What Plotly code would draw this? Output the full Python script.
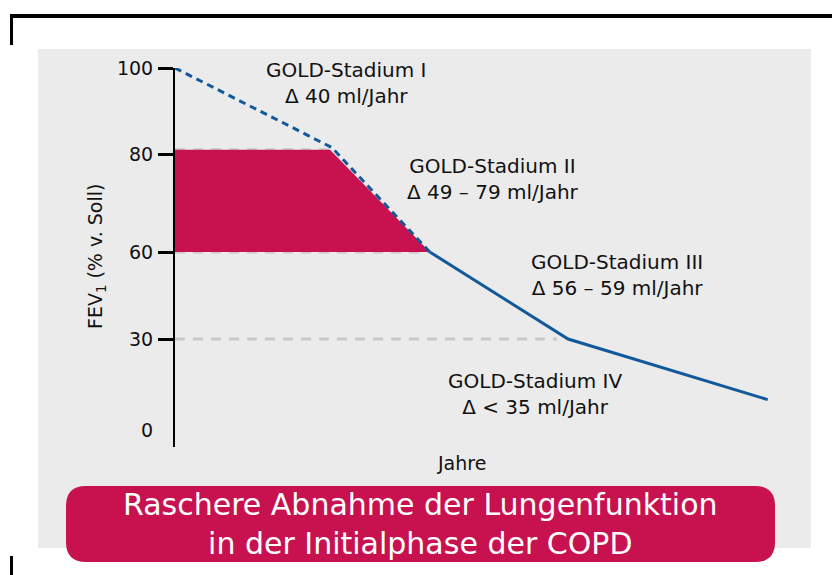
import numpy as np
import plotly.graph_objects as go

W, H = 832, 575

# ---- data ----
fev_ticks = [100, 80, 60, 30, 0]          # y tick labels (non-linear spacing)
tick_pos = [362, 276, 178, 91, 0]         # display position of each tick value
years_dashed = [0, 25.3, 41.1]
fev_dashed = [100, 81.5, 60]
years_solid = [41.1, 63.4, 95.6]
fev_solid = [60, 30, 10]
band_years = [0, 0, 25, 41.1, 0]
band_fev = [60, 81, 81, 60, 60]
ref_levels = [81, 60, 30]
ref_ends = [25, 41.1, 61.6]
stage_labels = [
    ("GOLD-Stadium I", "Δ 40 ml/Jahr"),
    ("GOLD-Stadium II", "Δ 49 – 79 ml/Jahr"),
    ("GOLD-Stadium III", "Δ 56 – 59 ml/Jahr"),
    ("GOLD-Stadium IV", "Δ < 35 ml/Jahr"),
]
box_lines = ["Raschere Abnahme der Lungenfunktion", "in der Initialphase der COPD"]

FONT = "DejaVu Sans"
TXT = "#111111"
BLUE = "#12599b"
PINK = "#c7124f"


def pos(v):
    v = np.asarray(v, dtype=float)
    return np.interp(v, fev_ticks[::-1], tick_pos[::-1])


def px(x):
    return x / W


def py(y):
    return 1 - y / H


fig = go.Figure()

# gray reference dashed lines
for lvl, xe in zip(ref_levels, ref_ends):
    fig.add_trace(go.Scatter(x=[0, xe], y=pos([lvl, lvl]), mode="lines",
                             line=dict(color="#c9c9c9", width=3, dash="10px,8px"),
                             hoverinfo="skip", showlegend=False))

# pink band
fig.add_trace(go.Scatter(x=band_years, y=pos(band_fev), mode="lines", fill="toself",
                         fillcolor=PINK, line=dict(width=0, color=PINK),
                         hoverinfo="skip", showlegend=False))

# dashed and solid decline
fig.add_trace(go.Scatter(x=years_dashed, y=pos(fev_dashed), mode="lines",
                         line=dict(color=BLUE, width=3, dash="7px,5px"),
                         showlegend=False))
fig.add_trace(go.Scatter(x=years_solid, y=pos(fev_solid), mode="lines",
                         line=dict(color=BLUE, width=3), showlegend=False))

# layout geometry (pixels)
x0_px, x1_px = 175, 795
ytop_px, ybot_px = 68, 447

shapes = []
# gray panel
shapes.append(dict(type="rect", xref="paper", yref="paper", layer="below",
                   x0=px(38), x1=px(811), y0=py(548), y1=py(49),
                   fillcolor="#ebebeb", line=dict(width=0)))
# black frame fragments
shapes.append(dict(type="line", xref="paper", yref="paper", x0=px(10), x1=px(832),
                   y0=py(16), y1=py(16), line=dict(color="black", width=4)))
shapes.append(dict(type="line", xref="paper", yref="paper", x0=px(11.5), x1=px(11.5),
                   y0=py(14), y1=py(45), line=dict(color="black", width=3)))
shapes.append(dict(type="line", xref="paper", yref="paper", x0=px(11.5), x1=px(11.5),
                   y0=py(556), y1=py(575), line=dict(color="black", width=3)))

# rounded pink box
bx0, bx1, by0, by1, r = 66, 775, 486, 562, 20


def P(x, y):
    return f"{px(x):.5f},{py(y):.5f}"


path = (f"M {P(bx0 + r, by0)} L {P(bx1 - r, by0)} Q {P(bx1, by0)} {P(bx1, by0 + r)} "
        f"L {P(bx1, by1 - r)} Q {P(bx1, by1)} {P(bx1 - r, by1)} "
        f"L {P(bx0 + r, by1)} Q {P(bx0, by1)} {P(bx0, by1 - r)} "
        f"L {P(bx0, by0 + r)} Q {P(bx0, by0)} {P(bx0 + r, by0)} Z")
shapes.append(dict(type="path", xref="paper", yref="paper", path=path,
                   fillcolor=PINK, line=dict(width=0), layer="above"))

annotations = []
stage_pos = [(346, 83), (493, 179), (617, 275), (535, 394)]
for (l1, l2), (cx, cy) in zip(stage_labels, stage_pos):
    annotations.append(dict(x=px(cx), y=py(cy), xref="paper", yref="paper",
                            text=f"{l1}<br>{l2}", showarrow=False, align="center",
                            font=dict(family=FONT, size=20, color=TXT),
                            xanchor="center", yanchor="middle"))
# y-axis title
annotations.append(dict(x=px(96), y=py(257), xref="paper", yref="paper",
                        text="FEV<sub>1</sub> (% v. Soll)", textangle=-90, showarrow=False,
                        font=dict(family=FONT, size=19, color=TXT),
                        xanchor="center", yanchor="middle"))
# "0" label (no tick mark)
annotations.append(dict(x=px(155), y=py(430), xref="paper", yref="paper",
                        text=str(fev_ticks[-1]),
                        showarrow=False, xanchor="right", yanchor="middle",
                        font=dict(family=FONT, size=19, color=TXT)))
# x title
annotations.append(dict(x=px(461), y=py(463), xref="paper", yref="paper", text="Jahre",
                        showarrow=False, xanchor="center", yanchor="middle",
                        font=dict(family=FONT, size=19, color=TXT)))
# box text
annotations.append(dict(x=px(420), y=py(524), xref="paper", yref="paper",
                        text="<br>".join(box_lines), showarrow=False, align="center",
                        xanchor="center", yanchor="middle",
                        font=dict(family=FONT, size=30, color="white")))

fig.update_layout(
    width=W, height=H, autosize=False,
    margin=dict(l=0, r=0, t=0, b=0, pad=0, autoexpand=False),
    paper_bgcolor="white", plot_bgcolor="rgba(0,0,0,0)",
    shapes=shapes, annotations=annotations,
    xaxis=dict(domain=[px(x0_px), px(x1_px)], range=[0, 100], visible=False,
               fixedrange=True, automargin=False),
    yaxis=dict(domain=[py(ybot_px), py(ytop_px)], range=[-17, 362], automargin=False,
               tickvals=tick_pos[:-1], ticktext=[str(v) for v in fev_ticks[:-1]],
               ticks="outside", ticklen=15, tickwidth=3, tickcolor="black",
               showline=True, linecolor="black", linewidth=2, showgrid=False,
               zeroline=False, ticklabelstandoff=1, fixedrange=True,
               tickfont=dict(family=FONT, size=19, color=TXT)),
    showlegend=False,
)

fig.write_html("out.html", config={"displayModeBar": False})
